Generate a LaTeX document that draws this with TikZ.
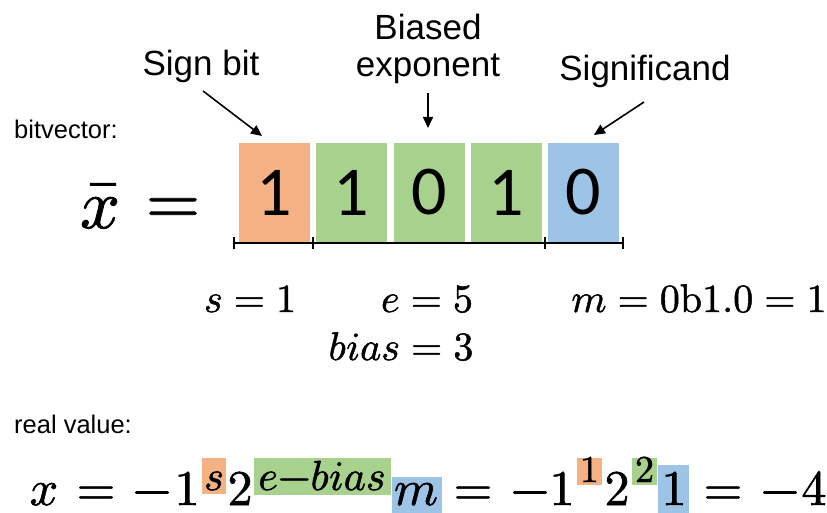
\documentclass[tikz,border=0pt]{standalone}
\usepackage{fontspec}
\usepackage{unicode-math}
\setmathfont{Latin Modern Math}[FakeBold=1.2]
\setsansfont{Liberation Sans}
\newfontfamily\calib{Carlito}
\usetikzlibrary{arrows.meta}
\definecolor{sgnc}{HTML}{F4B183}
\definecolor{expc}{HTML}{A9D18E}
\definecolor{manc}{HTML}{9DC3E6}
\tikzset{
  bitbox/.style={minimum width=71pt, minimum height=99pt, inner sep=0pt,
    font=\calib\fontsize{70}{84}\selectfont},
  lbl/.style={font=\sffamily\fontsize{35}{37}\selectfont, inner sep=0pt},
  smalllbl/.style={font=\sffamily\fontsize{25.5}{28}\selectfont, anchor=base west, inner sep=0pt},
  bigm/.style={font=\fontsize{70}{84}\selectfont, anchor=base, inner sep=0pt},
  eqm/.style={font=\fontsize{50}{60}\selectfont, anchor=base, inner sep=0pt},
  eqlbl/.style={font=\fontsize{40}{48}\selectfont, anchor=base, inner sep=0pt},
  supm/.style={font=\fontsize{42}{50}\selectfont, anchor=base, inner sep=0pt},
  supd/.style={font=\fontsize{38}{44}\selectfont, anchor=base, inner sep=0pt},
  hlbox/.style={inner sep=0pt, draw=none},
  arr/.style={line width=1.6pt, -{Triangle[length=11pt,width=10pt]}},
  brk/.style={line width=2pt}
}
\begin{document}
\begin{tikzpicture}[x=1pt,y=-1pt]
\useasboundingbox (0,0) rectangle (827,513);

% labels
\node[smalllbl] (bv) at (14,139) {bitvector:};
\node[smalllbl] (rv) at (14,433) {real value:};
\node[lbl, anchor=base] (signlbl) at (201,76) {Sign bit};
\node[lbl, anchor=north, align=center] (explbl) at (428,14) {Biased\\exponent};
\node[lbl, anchor=base] (siglbl) at (645,81) {Significand};

% x bar =
\node[bigm] (xbar) at (100,228) {$\bar{x}$};
\node[bigm] (xeq) at (173,224) {$=$};

% bit boxes
\node[bitbox, fill=sgnc] (b1) at (274.5,192.5) {1};
\node[bitbox, fill=expc] (b2) at (351.5,192.5) {1};
\node[bitbox, fill=expc] (b3) at (429.5,192.5) {0};
\node[bitbox, fill=expc] (b4) at (506.5,192.5) {1};
\node[bitbox, fill=manc] (b5) at (583.5,192.5) {0};

% arrows
\coordinate (a1s) at (203,91);
\coordinate (a1e) at (262,136);
\coordinate (a2s) at (428,93);
\coordinate (a2e) at (428,128);
\coordinate (a3s) at (644,102);
\coordinate (a3e) at (594,135);
\draw[arr] (a1s) -- (a1e);
\draw[arr] (a2s) -- (a2e);
\draw[arr] (a3s) -- (a3e);

% bracket
\coordinate (t0) at (234,243);
\coordinate (t1) at (313,243);
\coordinate (t2) at (545,243);
\coordinate (t3) at (623,243);
\draw[brk] (t0) -- (t3);
\foreach \t in {t0,t1,t2,t3} \draw[brk] ([yshift=6pt]\t) -- ([yshift=-6pt]\t);

% field values
\node[eqlbl] (sval) at (250,312) {$s=1$};
\node[eqlbl] (eval) at (427,312) {$e=5$};
\node[eqlbl] (mval) at (699,312) {$m=0\symup{b}1.0=1$};
\node[eqlbl] (bval) at (401,360) {$bias=3$};

% highlight boxes of the real-value formula
\node[hlbox, fill=sgnc, minimum width=24pt, minimum height=36pt] (hs1) at (214,476) {};
\node[hlbox, fill=expc, minimum width=137pt, minimum height=37pt] (he1) at (322.5,476.5) {};
\node[hlbox, fill=manc, minimum width=50pt, minimum height=36pt] (hm1) at (417,495) {};
\node[hlbox, fill=sgnc, minimum width=25pt, minimum height=27pt] (hs2) at (589.5,471.5) {};
\node[hlbox, fill=expc, minimum width=25pt, minimum height=27pt] (he2) at (644.5,471.5) {};
\node[hlbox, fill=manc, minimum width=31pt, minimum height=48pt] (hm2) at (673.5,489) {};

% real-value formula
\node[eqm] (fx) at (44,505) {$x$};
\node[eqm] (feq1) at (96,505) {$=$};
\node[eqm] (fneg1) at (152,505) {$-$};
\node[eqm] (fone1) at (187,505) {$1$};
\node[supm] (fs) at (214,490) {$s$};
\node[eqm] (ftwo1) at (240,505) {$2$};
\node[supm] (fexp) at (322,490) {$e{-}bias$};
\node[eqm] (fm) at (416,505) {$m$};
\node[eqm] (feq2) at (473,505) {$=$};
\node[eqm] (fneg2) at (530,505) {$-$};
\node[eqm] (fone2) at (562,505) {$1$};
\node[supd] (fs2) at (589.5,482) {$1$};
\node[eqm] (ftwo2) at (617,505) {$2$};
\node[supd] (fe2) at (644.5,482) {$2$};
\node[eqm] (fm2) at (674,505) {$1$};
\node[eqm] (feq3) at (723,505) {$=$};
\node[eqm] (fneg3) at (780,505) {$-$};
\node[eqm] (ffour) at (814,505) {$4$};
\end{tikzpicture}
\end{document}
